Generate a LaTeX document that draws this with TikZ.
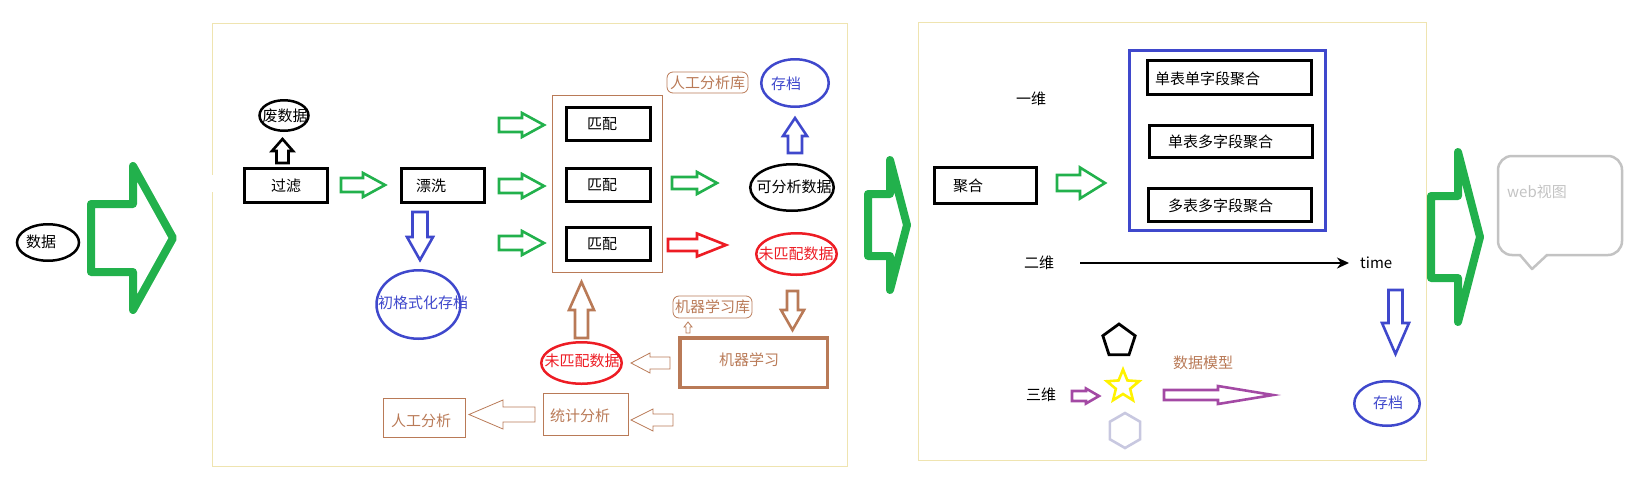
\documentclass[tikz,border=0pt]{standalone}
\usepackage{fontspec}
\setmainfont{Noto Sans CJK SC}
\usetikzlibrary{shapes.geometric,arrows.meta}
\definecolor{gA}{HTML}{22B14C}
\definecolor{bA}{HTML}{3F48CC}
\definecolor{rA}{HTML}{ED1C24}
\definecolor{brA}{HTML}{B97A57}
\definecolor{pA}{HTML}{A349A4}
\definecolor{yA}{HTML}{FFF200}
\definecolor{lvA}{HTML}{C8C8E0}
\definecolor{panelA}{HTML}{EFE4B0}
\definecolor{grA}{HTML}{C3C3C3}
% block arrow: [opts]{x}{y}{angle}{length}{shaft half}{head half}{head length}
\newcommand{\barrow}[8][]{%
  \begin{scope}[shift={(#2,#3)},rotate=#4]
  \draw[#1] (0,-#6) -- ({#5-#8},-#6) -- ({#5-#8},-#7) -- (#5,0) -- ({#5-#8},#7) -- ({#5-#8},#6) -- (0,#6) -- cycle;
  \end{scope}}
\begin{document}
\begin{tikzpicture}[x=1pt,y=-1pt,
  font=\fontsize{15}{18}\selectfont,
  txt/.style={inner sep=0pt},
  boxk/.style={draw,line width=3pt,inner sep=0pt},
  ell/.style={ellipse,draw,line width=2.5pt,inner sep=0pt},
  garr/.style={draw=gA,line width=2.6pt},
  bigarr/.style={draw=gA,line width=8pt,line join=round},
  thinarr/.style={draw=brA,line width=0.8pt},
]
\useasboundingbox (0,0) rectangle (1629,477);
% panels
\draw[panelA,line width=1pt] (212,192) -- (212,466) -- (847,466) -- (847,23) -- (212,23) -- (212,175);
\draw[panelA,line width=1pt] (918,22) rectangle (1426,460);

% ---- left: input
\node[ell,minimum width=62pt,minimum height=36.5pt] (edata) at (48,242.5) {};
\node[txt] (tdata) at (41,242) {数据};
\barrow[bigarr]{91}{238}{0}{82}{34}{72}{40}

% ---- left panel
\node[ell,minimum width=49pt,minimum height=30.5pt] (efei) at (284,115.5) {};
\node[txt] (tfei) at (285,116) {废数据};
\node[boxk,minimum width=83pt,minimum height=34pt] (guolv) at (286,185.5) {过滤};
\barrow[draw=black,line width=2.6pt]{282.5}{163}{90}{24}{6}{10.5}{12}
\barrow[garr]{341}{185}{0}{44}{7}{12}{22}
\node[boxk,minimum width=83pt,minimum height=34pt] (piaoxi) at (443,185.5) {};
\node[txt] (tpiaoxi) at (431,186) {漂洗};
\barrow[draw=bA,line width=2.6pt]{420}{212}{-90}{48}{7.5}{13}{23}
\node[ell,draw=bA,minimum width=84pt,minimum height=68.5pt] (echu) at (418.5,304.5) {};
\node[txt,text=bA] (tchu) at (423,303) {初格式化存档};

% match group
\node[draw=brA,line width=1pt,minimum width=110pt,minimum height=177pt,inner sep=0pt] (grp) at (607,183.5) {};
\barrow[garr]{499}{125}{0}{45}{7}{12}{22}
\barrow[garr]{499}{186}{0}{45}{7}{12}{22}
\barrow[garr]{499}{243}{0}{45}{7}{12}{22}
\node[boxk,minimum width=84pt,minimum height=33pt] (pp1) at (608.5,124) {};
\node[boxk,minimum width=84pt,minimum height=33pt] (pp2) at (608.5,185) {};
\node[boxk,minimum width=84pt,minimum height=33pt] (pp3) at (608.5,244) {};
\node[txt] (tpp1) at (602,124) {匹配};
\node[txt] (tpp2) at (602,185) {匹配};
\node[txt] (tpp3) at (602,244) {匹配};
\barrow[garr]{672}{183}{0}{45}{6}{11}{20}
\barrow[draw=rA,line width=2.6pt]{668}{245}{0}{58}{6}{11.5}{29}

\node[ell,minimum width=83.5pt,minimum height=46.5pt] (ekfx) at (792,187.5) {};
\node[txt] (tkfx) at (794,187) {可分析数据};
\node[ell,draw=rA,minimum width=80.5pt,minimum height=41.5pt] (ewpR) at (796.5,254) {};
\node[txt,text=rA] (twpR) at (796,254) {未匹配数据};
\node[ell,draw=bA,minimum width=67.5pt,minimum height=47.5pt] (ecdT) at (795,83) {};
\node[txt,text=bA] (tcdT) at (786,84) {存档};
\barrow[draw=bA,line width=2.6pt]{795}{153}{90}{35}{7}{12}{18}
\node[draw=brA,line width=0.8pt,rounded corners=6pt,minimum width=81pt,minimum height=21pt,inner sep=0pt,text=brA] (rgk) at (707.5,82.5) {人工分析库};

\barrow[draw=brA,line width=2.6pt]{792.5}{291}{-90}{39}{5.5}{11.5}{20}
\node[draw=brA,line width=0.8pt,rounded corners=6pt,minimum width=79pt,minimum height=22pt,inner sep=0pt,text=brA] (jqk) at (712.5,307) {机器学习库};
\barrow[thinarr]{688}{333}{90}{11}{2}{4}{5}
\node[draw=brA,line width=3.5pt,minimum width=147.5pt,minimum height=49.5pt,inner sep=0pt] (jqxx) at (753.5,362.5) {};
\node[txt,text=brA] (tjqxx) at (749,360) {机器学习};
\barrow[thinarr]{670}{363}{180}{39}{6}{10}{19}
\node[ell,draw=rA,minimum width=80.5pt,minimum height=41.5pt] (ewpL) at (581.5,363) {};
\node[txt,text=rA] (twpL) at (582,361) {未匹配数据};
\barrow[draw=brA,line width=2.6pt]{581.5}{338}{90}{56}{6.5}{12.5}{28}

\node[draw=brA,line width=1pt,minimum width=82pt,minimum height=39pt,inner sep=0pt] (rgfx) at (424.5,418) {};
\node[txt,text=brA] (trgfx) at (421,421) {人工分析};
\node[draw=brA,line width=1pt,minimum width=85pt,minimum height=42pt,inner sep=0pt] (tjfx) at (586,414.5) {};
\node[txt,text=brA] (ttjfx) at (580,416) {统计分析};
\barrow[thinarr]{535}{414.5}{180}{66}{7.5}{14.5}{34}
\barrow[thinarr]{673}{420}{180}{42}{6}{11}{22}

% ---- middle big arrow
\barrow[bigarr]{868}{225}{0}{39}{31}{65}{17}

% ---- right panel
\node[txt] (yiwei) at (1031,99) {一维};
\node[boxk,minimum width=102pt,minimum height=36pt] (juhe) at (985.5,185.5) {};
\node[txt] (tjuhe) at (968,186) {聚合};
\barrow[garr]{1057}{183}{0}{48}{8}{15.5}{25}
\node[draw=bA,line width=3pt,minimum width=196pt,minimum height=180pt,inner sep=0pt] (bluebox) at (1227.5,140.5) {};
\node[boxk,minimum width=164pt,minimum height=34pt] (jh1) at (1229.5,77.5) {};
\node[boxk,minimum width=163pt,minimum height=32pt] (jh2) at (1231,141.5) {};
\node[boxk,minimum width=163pt,minimum height=33pt] (jh3) at (1230,205) {};
\node[txt,anchor=west] (tjh1) at (1155,79) {单表单字段聚合};
\node[txt,anchor=west] (tjh2) at (1168,142) {单表多字段聚合};
\node[txt,anchor=west] (tjh3) at (1168,206) {多表多字段聚合};

\node[txt] (erwei) at (1039,263) {二维};
\node[txt,anchor=west] (time) at (1360,263) {time};
\coordinate (axs) at (1080,263);
\coordinate (axe) at (1349,263);
\draw[line width=2.5pt,-{Stealth[length=12pt,width=11pt]}] (axs) -- (axe);
\barrow[draw=bA,line width=2.6pt]{1395.5}{290}{-90}{64}{7}{13.5}{31}
\node[ell,draw=bA,minimum width=65.5pt,minimum height=44.5pt] (ecdR) at (1387,403.5) {};
\node[txt,text=bA] (tcdR) at (1388,403) {存档};

\node[txt] (sanwei) at (1041,395) {三维};
\barrow[draw=pA,line width=2.6pt]{1072}{396}{0}{27}{5}{7.5}{13}
\begin{scope}[shift={(1119,341)}]
\draw[line width=2.8pt,line join=miter] (90:17pt) -- (162:17pt) -- (234:17pt) -- (306:17pt) -- (18:17pt) -- cycle;
\end{scope}
\begin{scope}[shift={(1123,386.5)}]
\draw[yA,line width=2.6pt] (90:17pt) -- (126:7.5pt) -- (162:17pt) -- (198:7.5pt) -- (234:17pt) -- (270:7.5pt) -- (306:17pt) -- (342:7.5pt) -- (18:17pt) -- (54:7.5pt) -- cycle;
\end{scope}
\begin{scope}[shift={(1125,430.5)}]
\draw[lvA,line width=2.6pt] (90:17.5pt) -- (150:17.5pt) -- (210:17.5pt) -- (270:17.5pt) -- (330:17.5pt) -- (30:17.5pt) -- cycle;
\end{scope}
\node[txt,text=brA] (model) at (1203,363) {数据模型};
\barrow[draw=pA,line width=2.6pt]{1164}{395}{0}{109}{5}{9}{55}

% ---- right big arrow and web view
\barrow[bigarr]{1431}{237}{0}{49}{41}{85}{22}
\draw[grA,line width=2.5pt,rounded corners=14pt] (1498,156) rectangle (1622,255);
\fill[white] (1521,252) rectangle (1546,258);
\draw[grA,line width=2.5pt,line join=round] (1520,255) -- (1532,269) -- (1547,255);
\node[txt,anchor=west,text=grA] (web) at (1507,192) {web视图};
\end{tikzpicture}
\end{document}
